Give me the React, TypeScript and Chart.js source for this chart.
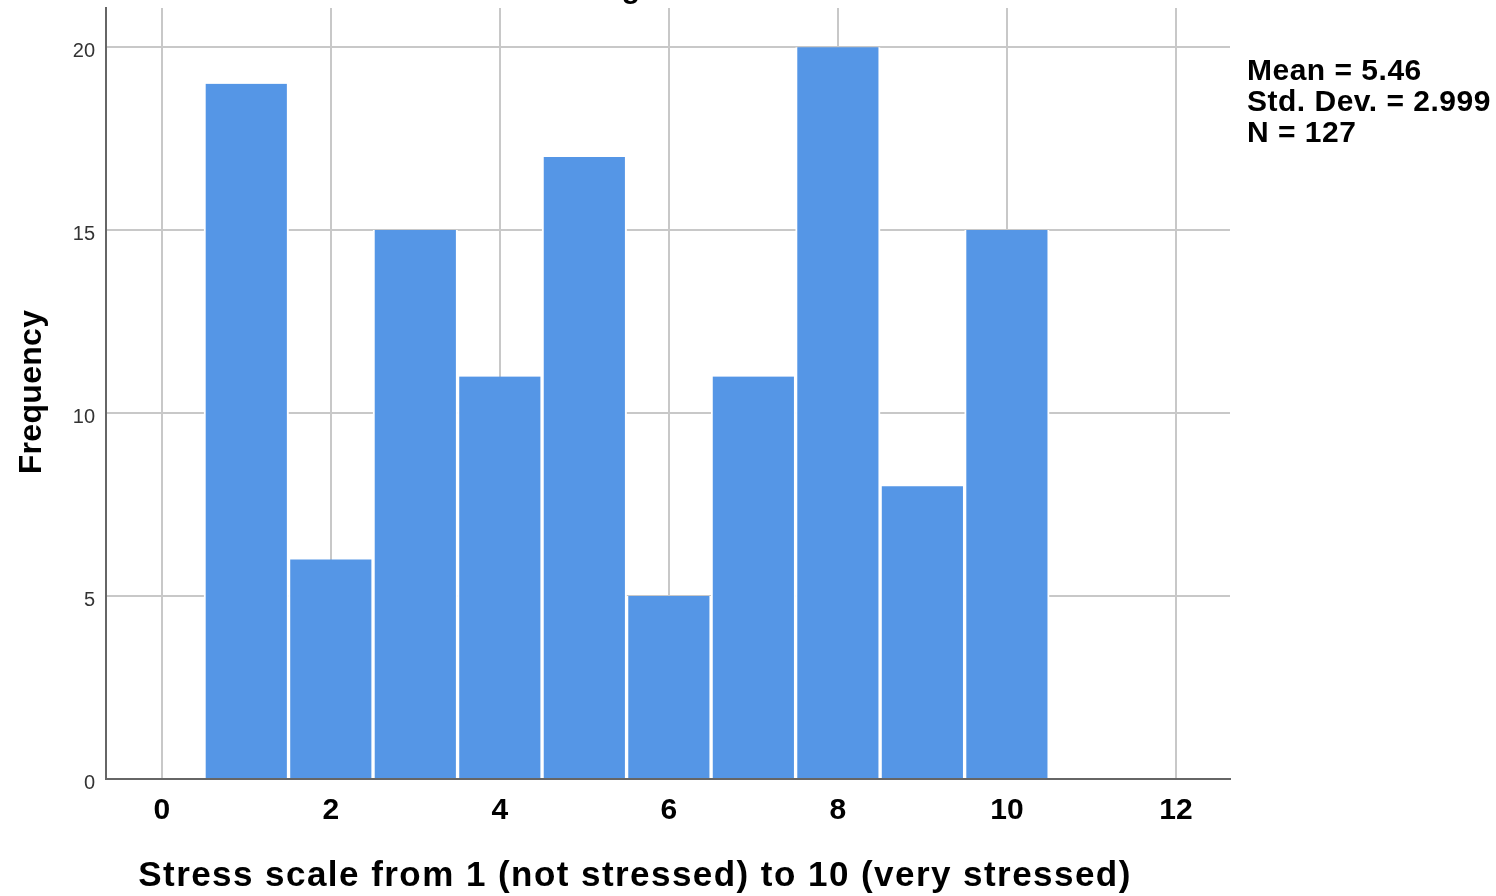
import React, { useEffect, useRef } from "react";
import { Chart, registerables } from "chart.js";

Chart.register(...registerables);

const scaleValues: number[] = [1, 2, 3, 4, 5, 6, 7, 8, 9, 10];
const frequencies: number[] = [19, 6, 15, 11, 17, 5, 11, 20, 8, 15];
const statLines: string[] = ["Mean = 5.46", "Std. Dev. = 2.999", "N = 127"];
const chartTitle = "Histogram";
const xTitle = "Stress scale from 1 (not stressed) to 10 (very stressed)";
const yTitle = "Frequency";

const FONT = "'Liberation Sans', Arial, sans-serif";

const textPlugin = {
  id: "spssText",
  afterDraw(chart: any) {
    const ctx = chart.ctx as any;
    ctx.save();
    ctx.fillStyle = "#000";
    // main title (mostly cut off at top)
    ctx.font = `bold 30px ${FONT}`;
    ctx.textAlign = "center";
    ctx.textBaseline = "alphabetic";
    ctx.fillText(chartTitle, 621, -2);
    // x title
    ctx.font = `bold 35px ${FONT}`;
    ctx.letterSpacing = "1.45px";
    ctx.fillText(xTitle, 635, 886);
    // y title
    ctx.save();
    ctx.translate(41, 392);
    ctx.rotate(-Math.PI / 2);
    ctx.font = `bold 32px ${FONT}`;
    ctx.letterSpacing = "0.3px";
    ctx.textAlign = "center";
    ctx.fillText(yTitle, 0, 0);
    ctx.restore();
    // stats
    ctx.font = `bold 30px ${FONT}`;
    ctx.letterSpacing = "0.5px";
    ctx.textAlign = "left";
    statLines.forEach((s: string, i: number) => ctx.fillText(s, 1247, 80 + i * 31));
    ctx.letterSpacing = "0px";
    ctx.restore();
  },
};

export default function App() {
  const ref = useRef<HTMLCanvasElement | null>(null);
  useEffect(() => {
    if (!ref.current) return;
    const chart = new Chart(ref.current, {
      type: "bar",
      data: {
        datasets: [
          {
            data: scaleValues.map((v, i) => ({ x: v, y: frequencies[i] })),
            backgroundColor: "#5596E6",
            borderColor: "#ffffff",
            borderWidth: { left: 2, right: 2, top: 0, bottom: 0 } as any,
            borderSkipped: false,
            barPercentage: 1,
            categoryPercentage: 1,
          },
        ],
      },
      options: {
        responsive: false,
        animation: false,
        layout: { padding: { left: 46, right: 266, top: 8, bottom: 37 } },
        plugins: { legend: { display: false }, tooltip: { enabled: false }, title: { display: false } },
        scales: {
          x: {
            type: "linear",
            min: -0.66,
            max: 12.64,
            offset: false,
            grid: { offset: false, color: "#c8c8c8", lineWidth: 2, drawTicks: false },
            border: { color: "#666", width: 2, z: 1 },
            ticks: {
              stepSize: 2,
              includeBounds: false,
              padding: 14,
              color: "#000",
              font: { family: FONT, size: 30, weight: "bold" },
              maxRotation: 0,
            },
            afterFit(scale: any) {
              scale.height = 80;
              scale.paddingLeft = 0;
              scale.paddingRight = 0;
            },
          },
          y: {
            type: "linear",
            min: 0,
            max: 21.07,
            grid: { color: "#c8c8c8", lineWidth: 2, drawTicks: false },
            border: { color: "#666", width: 2, z: 1 },
            ticks: {
              stepSize: 5,
              includeBounds: false,
              padding: 11,
              labelOffset: 4,
              color: "#333",
              font: { family: FONT, size: 20 },
            },
            afterFit(scale: any) {
              scale.width = 60;
              scale.paddingTop = 0;
              scale.paddingBottom = 0;
            },
          },
        },
      },
      plugins: [textPlugin],
    });
    return () => chart.destroy();
  }, []);
  return (
    <canvas
      ref={ref}
      width={1496}
      height={896}
      style={{ position: "absolute", left: 0, top: 0, display: "block" }}
    />
  );
}
